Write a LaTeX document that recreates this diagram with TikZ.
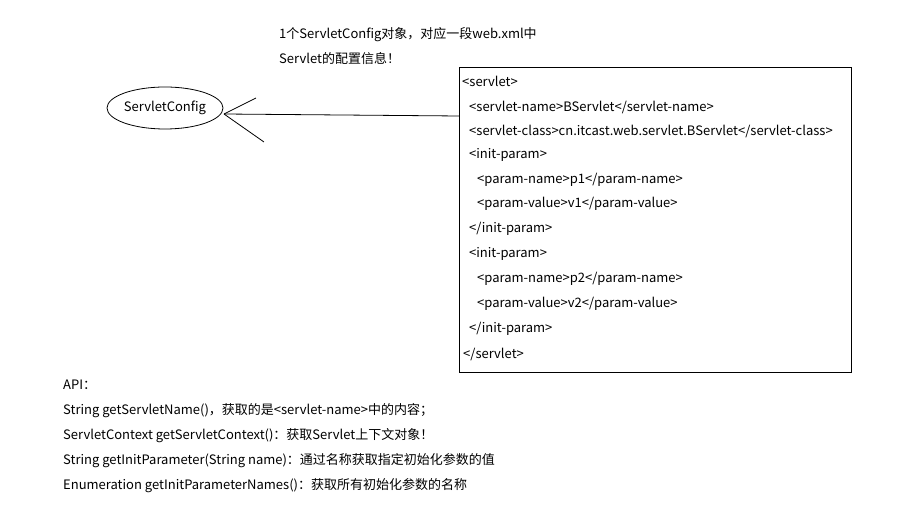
\documentclass[tikz,border=0pt]{standalone}
\usepackage{fontspec}
\setmainfont{Noto Sans CJK SC}
\usetikzlibrary{shapes.geometric}
\begin{document}
\begin{tikzpicture}[x=1pt,y=-1pt,
  txt/.style={anchor=base west,inner sep=0pt,font=\fontsize{13}{15}\selectfont},
  ln/.style={draw=black,line width=0.8pt}]
\useasboundingbox[fill=white] (0,0) rectangle (898,518);
% top note
\node[txt] (n1) at (279,39) {1个ServletConfig对象，对应一段web.xml中};
\node[txt] (n2) at (279,64) {Servlet的配置信息！};
% ellipse
\node[draw,ellipse,line width=0.8pt,minimum width=114pt,minimum height=42pt,inner sep=0pt,font=\fontsize{13}{15}\selectfont] (sc) at (165,108) {ServletConfig};
% box
\node[draw,line width=0.8pt,anchor=north west,minimum width=392pt,minimum height=305pt,inner sep=0pt] (box) at (459,67) {};
\coordinate (tip) at (224,114);
\coordinate (boxin) at (459,116);
\coordinate (a1) at (256,98);
\coordinate (a2) at (264,142);
\draw[ln] (tip) -- (boxin);
\draw[ln] (tip) -- (a1);
\draw[ln] (tip) -- (a2);
% xml
\node[txt] (x1) at (462,87) {<servlet>};
\node[txt] (x2) at (469,112) {<servlet-name>BServlet</servlet-name>};
\node[txt] (x3) at (469,136) {<servlet-class>cn.itcast.web.servlet.BServlet</servlet-class>};
\node[txt] (x4) at (469,159) {<init-param>};
\node[txt] (x5) at (477,184) {<param-name>p1</param-name>};
\node[txt] (x6) at (477,208) {<param-value>v1</param-value>};
\node[txt] (x7) at (469,233) {</init-param>};
\node[txt] (x8) at (469,258) {<init-param>};
\node[txt] (x9) at (477,283) {<param-name>p2</param-name>};
\node[txt] (x10) at (477,308) {<param-value>v2</param-value>};
\node[txt] (x11) at (469,333) {</init-param>};
\node[txt] (x12) at (463,359) {</servlet>};
% API
\node[txt] (p0) at (63,390) {API：};
\node[txt] (p1) at (63,415) {String getServletName()，获取的是<servlet-name>中的内容；};
\node[txt] (p2) at (63,440) {ServletContext getServletContext()：获取Servlet上下文对象！};
\node[txt] (p3) at (63,465) {String getInitParameter(String name)：通过名称获取指定初始化参数的值};
\node[txt] (p4) at (63,490) {Enumeration getInitParameterNames()：获取所有初始化参数的名称};
\end{tikzpicture}
\end{document}
